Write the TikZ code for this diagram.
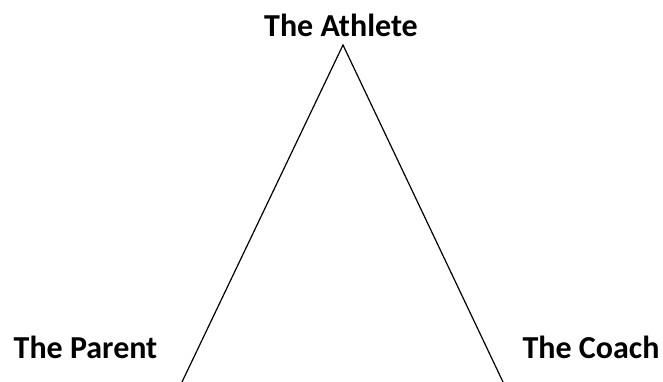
\documentclass[tikz,border=0pt]{standalone}
\usepackage{fontspec}
\setmainfont{Carlito}
\begin{document}
\begin{tikzpicture}[x=1pt, y=1pt, label/.style={anchor=base, inner sep=0pt, font=\fontsize{32}{36}\selectfont\bfseries}]
\useasboundingbox (0,0) rectangle (663,382);
\node[label] (athlete) at (341,345) {The Athlete};
\node[label] (parent) at (85.5,23) {The Parent};
\node[label] (coach) at (591,23) {The Coach};
\coordinate (apex) at (343,337);
\coordinate (leftfoot) at (182,0);
\coordinate (rightfoot) at (503,0);
\draw[line width=1.2pt] (leftfoot) -- (apex) -- (rightfoot);
\end{tikzpicture}
\end{document}
